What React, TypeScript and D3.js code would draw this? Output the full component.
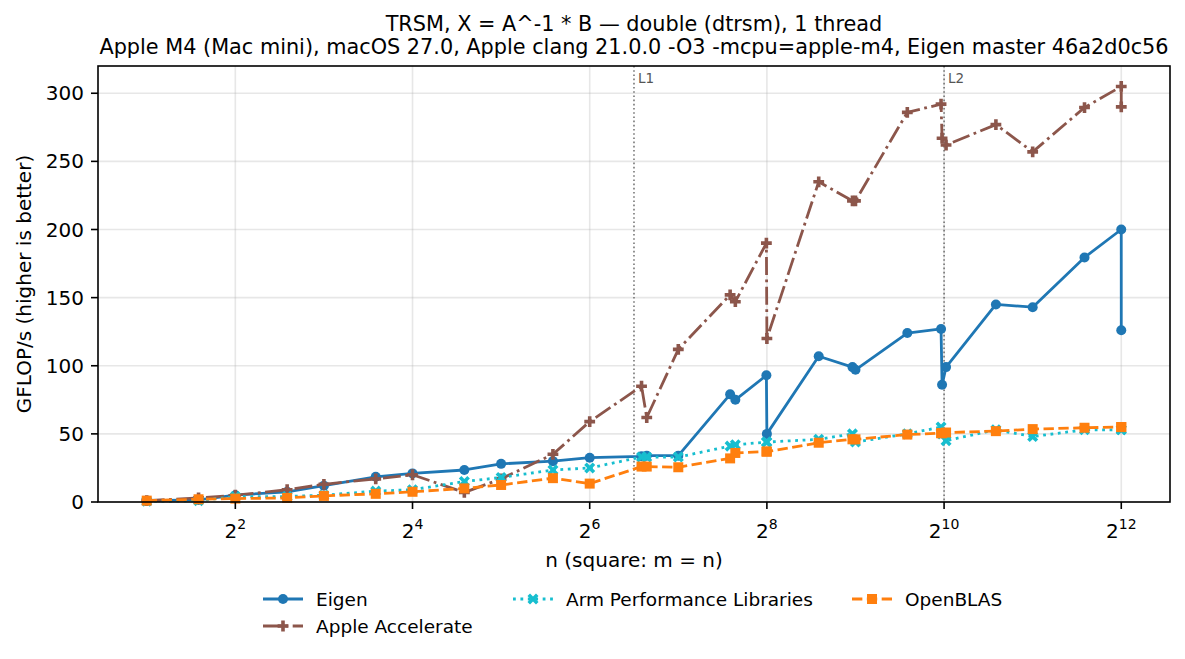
import React from 'react';
import * as d3 from 'd3';

// problem sizes (n = m), GFLOP/s
const sizes = [2, 3, 4, 6, 8, 12, 16, 24, 32, 48, 64, 96, 100, 128, 192, 200, 255, 256, 384, 500, 512, 768, 1000, 1008, 1040, 1536, 2048, 3072, 4095, 4096];
const eigen = [1, 1.5, 5, 7.5, 12, 18.5, 21, 23.5, 28, 30, 32.5, 33.5, 34, 34, 79, 75, 93, 50, 107, 99, 97, 124, 127, 86, 99, 145, 143, 179.5, 200, 126];
const accelerate = [1, 3, 5, 9, 13, 17, 20, 7, 17, 35, 59, 85, 62, 112, 152, 147, 190, 120, 235, 221, 221, 286, 292, 267, 262, 277, 257, 289.5, 305, 290];
const armpl = [0.5, 1, 4, 4, 5, 8, 9, 15, 18, 23.5, 25, 33, 33, 33, 41, 42, 44, 44, 46, 50, 44, 50, 55, 50, 45, 53, 48, 53, 53, 53];
const openblas = [1, 2, 2.5, 3, 4.5, 6, 7.5, 10, 12.5, 17.5, 13.5, 26, 26, 25.5, 32, 36, 37, 37, 43.5, 46, 46, 49.5, 50.5, 50.5, 51, 52, 53.5, 54.5, 55, 55];

const yTicks = [0, 50, 100, 150, 200, 250, 300];
const xTickExps = [2, 4, 6, 8, 10, 12];
const cacheLines = [
  { label: 'L1', n: 90.5 },
  { label: 'L2', n: 1024 },
];

type MarkerKind = 'circle' | 'plus' | 'x' | 'square';

interface Series {
  name: string;
  values: number[];
  color: string;
  dash: string;
  marker: MarkerKind;
}

const LW = 2.8;
const series: Series[] = [
  { name: 'Eigen', values: eigen, color: '#1f77b4', dash: '', marker: 'circle' },
  { name: 'Apple Accelerate', values: accelerate, color: '#8c564b', dash: `${6.4 * LW},${1.6 * LW},${1 * LW},${1.6 * LW}`, marker: 'plus' },
  { name: 'Arm Performance Libraries', values: armpl, color: '#17becf', dash: `${1 * LW},${1.65 * LW}`, marker: 'x' },
  { name: 'OpenBLAS', values: openblas, color: '#ff7f0e', dash: `${3.7 * LW},${1.6 * LW}`, marker: 'square' },
];

const W = 1185;
const H = 659;
const plot = { left: 98, top: 66, right: 1170, bottom: 502 };
const FONT = 'DejaVu Sans, sans-serif';

const plusPath = (a: number, l: number) =>
  `M${-a},${-l}H${a}V${-a}H${l}V${a}H${a}V${l}H${-a}V${a}H${-l}V${-a}H${-a}Z`;

const Marker: React.FC<{ kind: MarkerKind; x: number; y: number; color: string }> = ({ kind, x, y, color }) => {
  if (kind === 'circle') return <circle cx={x} cy={y} r={5} fill={color} />;
  if (kind === 'square') return <rect x={x - 5} y={y - 5} width={10} height={10} fill={color} />;
  if (kind === 'plus') return <path d={plusPath(1.8, 5.4)} transform={`translate(${x},${y})`} fill={color} />;
  return <path d={plusPath(1.8, 6)} transform={`translate(${x},${y}) rotate(45)`} fill={color} />;
};

const App: React.FC = () => {
  const x = d3.scaleLog().base(2)
    .domain([Math.pow(2, 0.45), Math.pow(2, 12.55)])
    .range([plot.left, plot.right]);
  const y = d3.scaleLinear().domain([0, 320]).range([plot.bottom, plot.top]);

  const line = d3.line<number>()
    .x((_, i) => x(sizes[i]))
    .y(d => y(d));

  const legendItems = [
    { s: series[0], x0: 263, row: 0 },
    { s: series[1], x0: 263, row: 1 },
    { s: series[2], x0: 513, row: 0 },
    { s: series[3], x0: 852, row: 0 },
  ];

  return (
    <svg width={W} height={H} style={{ position: 'absolute', left: 0, top: 0, background: '#fff' }} fontFamily={FONT}>
      <rect width={W} height={H} fill="#fff" />

      {/* title */}
      <text x={(plot.left + plot.right) / 2} y={31} textAnchor="middle" fontSize={20.8}>TRSM, X = A^-1 * B — double (dtrsm), 1 thread</text>
      <text x={(plot.left + plot.right) / 2} y={54} textAnchor="middle" fontSize={20.8}>Apple M4 (Mac mini), macOS 27.0, Apple clang 21.0.0 -O3 -mcpu=apple-m4, Eigen master 46a2d0c56</text>

      {/* grid */}
      {yTicks.map(t => (
        <line key={`gy${t}`} x1={plot.left} x2={plot.right} y1={y(t)} y2={y(t)} stroke="#b0b0b0" strokeOpacity={0.3} strokeWidth={1.6} />
      ))}
      {xTickExps.map(e => (
        <line key={`gx${e}`} x1={x(Math.pow(2, e))} x2={x(Math.pow(2, e))} y1={plot.top} y2={plot.bottom} stroke="#b0b0b0" strokeOpacity={0.3} strokeWidth={1.6} />
      ))}

      {/* cache size markers */}
      {cacheLines.map(c => (
        <g key={c.label}>
          <line x1={x(c.n)} x2={x(c.n)} y1={plot.top} y2={plot.bottom} stroke="#555" strokeOpacity={0.8} strokeWidth={1.6} strokeDasharray="1.6,2.6" />
          <text x={x(c.n) + 4} y={83} fontSize={13.5} fill="#555">{c.label}</text>
        </g>
      ))}

      {/* series */}
      {series.map(s => (
        <g key={s.name}>
          <path d={line(s.values) ?? ''} fill="none" stroke={s.color} strokeWidth={LW} strokeDasharray={s.dash || undefined} strokeLinejoin="round" />
          {s.values.map((v, i) => (
            <Marker key={i} kind={s.marker} x={x(sizes[i])} y={y(v)} color={s.color} />
          ))}
        </g>
      ))}

      {/* spines */}
      <rect x={plot.left} y={plot.top} width={plot.right - plot.left} height={plot.bottom - plot.top} fill="none" stroke="#000" strokeWidth={1.6} />

      {/* y axis */}
      {yTicks.map(t => (
        <g key={`ty${t}`}>
          <line x1={plot.left - 7} x2={plot.left} y1={y(t)} y2={y(t)} stroke="#000" strokeWidth={1.6} />
          <text x={plot.left - 14} y={y(t) + 7} textAnchor="end" fontSize={20}>{t}</text>
        </g>
      ))}
      <text transform={`translate(31,${(plot.top + plot.bottom) / 2}) rotate(-90)`} textAnchor="middle" fontSize={20}>GFLOP/s (higher is better)</text>

      {/* x axis */}
      {xTickExps.map(e => (
        <g key={`tx${e}`}>
          <line x1={x(Math.pow(2, e))} x2={x(Math.pow(2, e))} y1={plot.bottom} y2={plot.bottom + 7} stroke="#000" strokeWidth={1.6} />
          <text x={x(Math.pow(2, e))} y={538} textAnchor="middle" fontSize={20}>
            2<tspan dy={-9} fontSize={14}>{e}</tspan>
          </text>
        </g>
      ))}
      <text x={(plot.left + plot.right) / 2} y={567} textAnchor="middle" fontSize={20}>n (square: m = n)</text>

      {/* legend */}
      {legendItems.map(({ s, x0, row }) => {
        const cy = 599 + row * 27;
        return (
          <g key={`lg${s.name}`}>
            <line x1={x0} x2={x0 + 40} y1={cy} y2={cy} stroke={s.color} strokeWidth={LW} strokeDasharray={s.dash || undefined} />
            <Marker kind={s.marker} x={x0 + 20} y={cy} color={s.color} />
            <text x={x0 + 53} y={cy + 6.5} fontSize={18.5}>{s.name}</text>
          </g>
        );
      })}
    </svg>
  );
};

export default App;
